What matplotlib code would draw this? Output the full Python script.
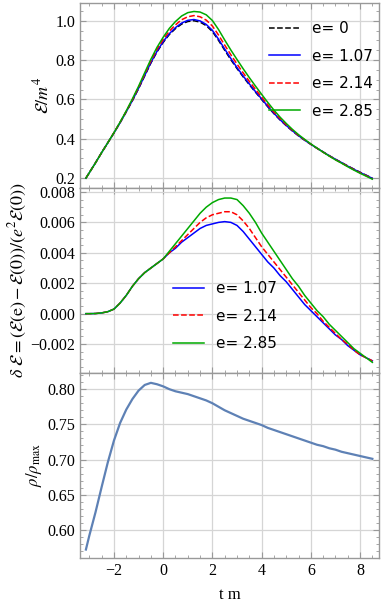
import matplotlib
matplotlib.use("Agg")
import matplotlib.pyplot as plt
from matplotlib.ticker import AutoMinorLocator, MultipleLocator, FormatStrFormatter, FuncFormatter

# time grid (t m), shared by all panels
t = [-3.14, -3.0, -2.75, -2.5, -2.25, -2.0, -1.75, -1.5, -1.25, -1.0, -0.75, -0.5, -0.25,
     0.0, 0.25, 0.5, 0.75, 1.0, 1.25, 1.5, 1.75, 2.0, 2.25, 2.5, 2.75, 3.0, 3.25, 3.5,
     3.75, 4.0, 4.25, 4.5, 4.75, 5.0, 5.25, 5.5, 5.75, 6.0, 6.25, 6.5, 6.75, 7.0, 7.25,
     7.5, 7.75, 8.0, 8.25, 8.5]

# energy density E/m^4
E_0 = [0.200, 0.228, 0.278, 0.330, 0.380, 0.430, 0.482, 0.537, 0.594, 0.655, 0.720, 0.785,
       0.842, 0.890, 0.930, 0.960, 0.983, 0.996, 1.000, 0.993, 0.975, 0.945, 0.900, 0.850,
       0.802, 0.757, 0.715, 0.675, 0.637, 0.600, 0.563, 0.528, 0.496, 0.467, 0.440, 0.415,
       0.393, 0.372, 0.352, 0.333, 0.314, 0.296, 0.279, 0.262, 0.246, 0.230, 0.215, 0.200]
E_107 = [0.200, 0.228, 0.278, 0.330, 0.380, 0.430, 0.482, 0.538, 0.595, 0.657, 0.722, 0.788,
         0.845, 0.894, 0.934, 0.965, 0.988, 1.002, 1.006, 0.999, 0.981, 0.951, 0.906, 0.856,
         0.808, 0.762, 0.719, 0.679, 0.640, 0.603, 0.565, 0.530, 0.497, 0.468, 0.441, 0.416,
         0.393, 0.372, 0.352, 0.333, 0.314, 0.296, 0.279, 0.261, 0.245, 0.229, 0.214, 0.199]
E_214 = [0.200, 0.228, 0.278, 0.330, 0.380, 0.431, 0.484, 0.540, 0.599, 0.662, 0.729, 0.796,
         0.855, 0.905, 0.947, 0.979, 1.005, 1.020, 1.026, 1.020, 1.003, 0.973, 0.927, 0.876,
         0.827, 0.780, 0.735, 0.692, 0.652, 0.612, 0.573, 0.536, 0.503, 0.472, 0.444, 0.418,
         0.395, 0.373, 0.352, 0.332, 0.313, 0.294, 0.277, 0.260, 0.243, 0.227, 0.212, 0.197]
E_285 = [0.200, 0.228, 0.278, 0.330, 0.380, 0.431, 0.485, 0.542, 0.603, 0.667, 0.736, 0.804,
         0.865, 0.916, 0.961, 0.996, 1.024, 1.041, 1.047, 1.044, 1.030, 1.001, 0.955, 0.902,
         0.851, 0.803, 0.756, 0.711, 0.668, 0.626, 0.585, 0.546, 0.510, 0.478, 0.448, 0.421,
         0.397, 0.374, 0.353, 0.332, 0.312, 0.293, 0.276, 0.258, 0.241, 0.225, 0.210, 0.195]

# relative change dE = (E(e) - E(0)) / (e^2 E(0))
dE_107 = [0.0, 0.0, 0.00001, 0.00005, 0.00013, 0.0003, 0.0007, 0.0012, 0.0018, 0.0023,
          0.0027, 0.0030, 0.0033, 0.0036, 0.0040, 0.0043, 0.0047, 0.0050, 0.0053, 0.0056,
          0.0058, 0.0059, 0.0060, 0.00605, 0.0060, 0.0058, 0.0054, 0.0049, 0.0044, 0.0039,
          0.0034, 0.0030, 0.0025, 0.0021, 0.0016, 0.0011, 0.0006, 0.0002, -0.0002, -0.0006,
          -0.0010, -0.0014, -0.0017, -0.0021, -0.0024, -0.0027, -0.0029, -0.0031]
dE_214 = [0.0, 0.0, 0.00001, 0.00005, 0.00013, 0.0003, 0.0007, 0.0012, 0.0018, 0.0023,
          0.0027, 0.0030, 0.0033, 0.0036, 0.0040, 0.0044, 0.0048, 0.0052, 0.0056, 0.0060,
          0.0063, 0.0065, 0.0066, 0.0067, 0.0067, 0.0065, 0.0061, 0.0056, 0.0050, 0.0044,
          0.0039, 0.0034, 0.0029, 0.0024, 0.0019, 0.0014, 0.0009, 0.0004, 0.0000, -0.0005,
          -0.0009, -0.0013, -0.0017, -0.0020, -0.0024, -0.0027, -0.0029, -0.0031]
dE_285 = [0.0, 0.0, 0.00001, 0.00005, 0.00013, 0.0003, 0.0007, 0.0012, 0.0018, 0.0023,
          0.0027, 0.0030, 0.0033, 0.0036, 0.0041, 0.0046, 0.0051, 0.0056, 0.0061, 0.0066,
          0.0070, 0.0073, 0.0075, 0.0076, 0.0076, 0.0075, 0.0071, 0.0066, 0.0060, 0.0053,
          0.0047, 0.0041, 0.0035, 0.0029, 0.0023, 0.0018, 0.0012, 0.0007, 0.0002, -0.0002,
          -0.0007, -0.0011, -0.0015, -0.0019, -0.0023, -0.0026, -0.0029, -0.0032]

# density ratio rho / rho_max
rho = [0.572, 0.592, 0.625, 0.661, 0.696, 0.727, 0.752, 0.771, 0.786, 0.798, 0.806, 0.809,
       0.807, 0.804, 0.800, 0.797, 0.795, 0.793, 0.790, 0.787, 0.784, 0.780, 0.775, 0.770,
       0.766, 0.762, 0.758, 0.755, 0.752, 0.749, 0.745, 0.742, 0.739, 0.736, 0.733, 0.730,
       0.727, 0.724, 0.721, 0.719, 0.716, 0.714, 0.711, 0.709, 0.707, 0.705, 0.703, 0.701]

labels = ["e= 0", "e= 1.07", "e= 2.14", "e= 2.85"]

plt.rcParams['font.family'] = ['Liberation Serif', 'DejaVu Serif']
plt.rcParams['mathtext.fontset'] = 'stix'
plt.rcParams['font.size'] = 12

fig = plt.figure(figsize=(3.82, 6.06), dpi=100)
L, W = 80 / 382, 299 / 382
ax1 = fig.add_axes([L, 1 - 188 / 606, W, 185 / 606])
ax2 = fig.add_axes([L, 1 - 373 / 606, W, 185 / 606], sharex=ax1)
ax3 = fig.add_axes([L, 1 - 558 / 606, W, 185 / 606], sharex=ax1)

ax1.plot(t, E_0, '--', color='black', lw=1.1, label=labels[0])
ax1.plot(t, E_107, '-', color='#0000ff', lw=1.1, label=labels[1])
ax1.plot(t, E_214, '--', color='#ff0000', lw=1.1, label=labels[2])
ax1.plot(t, E_285, '-', color='#00aa00', lw=1.1, label=labels[3])

ax2.plot(t, dE_107, '-', color='#0000ff', lw=1.1, label=labels[1])
ax2.plot(t, dE_214, '--', color='#ff0000', lw=1.1, label=labels[2])
ax2.plot(t, dE_285, '-', color='#00aa00', lw=1.1, label=labels[3])

ax3.plot(t, rho, '-', color='#5e81b5', lw=1.6)

ax1.set_xlim(-3.38, 8.77)
ax1.set_ylim(0.15, 1.09)
ax2.set_ylim(-0.0039, 0.00826)
ax3.set_ylim(0.56, 0.823)

ax1.xaxis.set_major_locator(MultipleLocator(2))
ax1.yaxis.set_major_locator(MultipleLocator(0.2))
ax2.yaxis.set_major_locator(MultipleLocator(0.002))
ax3.yaxis.set_major_locator(MultipleLocator(0.05))
ax1.yaxis.set_major_formatter(FormatStrFormatter('%.1f'))
ax2.yaxis.set_major_formatter(FuncFormatter(lambda v, p: ('%.3f' % v).replace('-', '\u2212')))
ax3.yaxis.set_major_formatter(FormatStrFormatter('%.2f'))

for ax in (ax1, ax2, ax3):
    ax.xaxis.set_minor_locator(AutoMinorLocator(4))
    ax.yaxis.set_minor_locator(AutoMinorLocator())
    ax.grid(True, which='major', color='#d5d5d5', lw=0.9)
    ax.tick_params(which='both', direction='in', top=True, right=True,
                   color='#999999', labelsize=11.5)
    ax.tick_params(which='major', length=4)
    ax.tick_params(which='minor', length=2)
    for s in ax.spines.values():
        s.set_color('#999999')
        s.set_linewidth(1.0)
for ax in (ax1, ax2):
    ax.tick_params(labelbottom=False)

ax1.set_ylabel(r'$\mathcal{E}/m^4$', fontsize=13, labelpad=2)
ax2.set_ylabel(r'$\delta\ \mathcal{E}=(\mathcal{E}(\mathrm{e})-\mathcal{E}(0))/(e^2\mathcal{E}(0))$',
               fontsize=13, labelpad=1)
ax3.set_ylabel(r'$\rho/\rho_{\mathrm{max}}$', fontsize=12, labelpad=2)
ax3.set_xlabel('t m', fontsize=12, labelpad=6)

leg_kw = dict(frameon=False, prop={'family': 'DejaVu Sans', 'size': 11},
              handlelength=2.0, labelspacing=0.82, borderaxespad=0.0, handletextpad=0.8)
ax1.legend(loc='upper right', bbox_to_anchor=(1.0, 0.935), **leg_kw)
ax2.legend(loc='upper left', bbox_to_anchor=(0.291, 0.53), **leg_kw)

fig.savefig('out.png', dpi=100)
